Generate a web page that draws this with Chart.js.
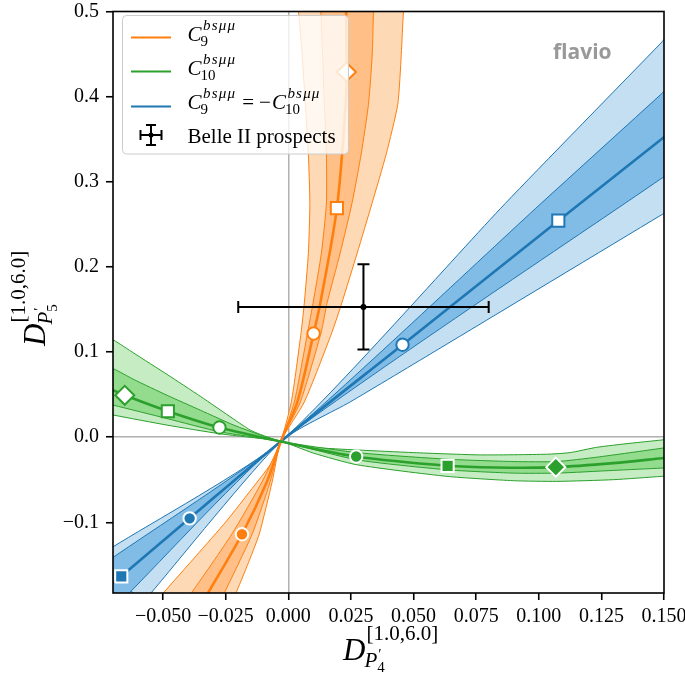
<!DOCTYPE html>
<html><head><meta charset="utf-8">
<script src="https://cdn.jsdelivr.net/npm/chart.js@4.4.1/dist/chart.umd.min.js"></script>
<style>html,body{margin:0;padding:0;background:#fff;overflow:hidden}</style>
</head><body>
<canvas id="c" width="685" height="673"></canvas>
<script>
// ---------------- data ----------------
const xTicks = [-0.05, -0.025, 0, 0.025, 0.05, 0.075, 0.1, 0.125, 0.15];
const xTickLabels = ['−0.050','−0.025','0.000','0.025','0.050','0.075','0.100','0.125','0.150'];
const yTicks = [-0.1, 0, 0.1, 0.2, 0.3, 0.4, 0.5];
const yTickLabels = ['−0.1','0.0','0.1','0.2','0.3','0.4','0.5'];
const xRange = [-0.07, 0.15];
const yRange = [-0.183, 0.5];

const seriesNames = ['C9', 'C10', 'C9=-C10'];

// C9 (orange)
const orangeCenter = [[-0.0345,-0.195],[-0.0324,-0.1847],[-0.0185,-0.114],[-0.0085,-0.0519],[-0.003,-0.005],[0.0036,0.0414],[0.0101,0.1218],[0.0128,0.158],[0.0194,0.269],[0.0229,0.391],[0.0232,0.429],[0.0231,0.4994],[0.023,0.53]];
const orangeOuterLeft = [[-0.053,-0.195],[-0.0504,-0.1847],[-0.0367,-0.139],[-0.0247,-0.0985],[-0.0144,-0.06],[-0.0072,-0.032],[-0.003,-0.005],[0.0012,0.0414],[0.0051,0.123],[0.0064,0.158],[0.008,0.2162],[0.0086,0.2745],[0.008,0.3327],[0.0068,0.391],[0.0055,0.4493],[0.0041,0.4994],[0.003,0.53]];
const orangeOuterRight = [[0.0475,0.53],[0.046,0.4994],[0.0451,0.4493],[0.0437,0.391],[0.0391,0.3327],[0.0334,0.2745],[0.0275,0.2162],[0.0214,0.158],[0.0174,0.123],[0.0064,0.0414],[-0.003,-0.005],[-0.0064,-0.0519],[-0.0116,-0.1136],[-0.0164,-0.1509],[-0.0211,-0.1847],[-0.0225,-0.195]];
const orangeInnerLeft = [[-0.042,-0.195],[-0.0391,-0.1847],[-0.0225,-0.1136],[-0.0104,-0.0519],[-0.003,-0.005],[0.0024,0.0414],[0.0077,0.123],[0.0099,0.158],[0.0132,0.2162],[0.0152,0.2745],[0.0152,0.3327],[0.0144,0.391],[0.0137,0.4493],[0.013,0.4994],[0.0127,0.53]];
const orangeInnerRight = [[0.0345,0.53],[0.034,0.4994],[0.0335,0.4493],[0.032,0.391],[0.0291,0.3327],[0.0254,0.2745],[0.0207,0.2162],[0.0155,0.158],[0.0131,0.123],[0.0048,0.0414],[-0.003,-0.005],[-0.0072,-0.0519],[-0.0144,-0.1136],[-0.0258,-0.1847],[-0.0273,-0.195]];

// C10 (green)
const greenCenter = [[-0.075,0.062],[-0.0697,0.055],[-0.0653,0.0492],[-0.0481,0.0305],[-0.0275,0.0114],[-0.003,-0.005],[0.0271,-0.0227],[0.0636,-0.0336],[0.0832,-0.0356],[0.1068,-0.0352],[0.1298,-0.0305],[0.1491,-0.0247],[0.155,-0.0228]];
const greenOuterTop = [[-0.075,0.122],[-0.0697,0.114],[-0.0617,0.0988],[-0.0484,0.0737],[-0.0351,0.048],[-0.0218,0.0212],[-0.0152,0.0084],[-0.0112,0.0033],[-0.003,-0.005],[0.0101,-0.0119],[0.0274,-0.015],[0.05,-0.0181],[0.0766,-0.0208],[0.1032,-0.02],[0.1125,-0.0181],[0.1231,-0.0119],[0.1364,-0.0072],[0.1491,-0.0033],[0.155,-0.0015]];
const greenOuterBottom = [[0.155,-0.045],[0.1491,-0.046],[0.1298,-0.0499],[0.1072,-0.0519],[0.0899,-0.0511],[0.0633,-0.046],[0.0274,-0.0324],[0.0101,-0.0188],[-0.003,-0.005],[-0.0275,0.0041],[-0.0484,0.0142],[-0.0697,0.0259],[-0.075,0.029]];
const greenInnerTop = [[-0.075,0.085],[-0.0697,0.0802],[-0.0617,0.0678],[-0.0484,0.0492],[-0.0351,0.0317],[-0.0218,0.0142],[-0.0112,0.0026],[-0.003,-0.005],[0.0274,-0.0181],[0.0633,-0.0258],[0.0899,-0.0286],[0.1072,-0.0286],[0.1231,-0.0235],[0.1491,-0.013],[0.155,-0.0105]];
const greenInnerBottom = [[0.155,-0.0355],[0.1491,-0.0363],[0.1298,-0.039],[0.1072,-0.0422],[0.0899,-0.0422],[0.0633,-0.0383],[0.0274,-0.0266],[-0.003,-0.005],[-0.0275,0.0064],[-0.0484,0.0219],[-0.0697,0.0375],[-0.075,0.041]];

// C9 = -C10 (blue)
const blueCenter = [[-0.075,-0.184],[-0.0667,-0.1634],[-0.0394,-0.0953],[-0.003,-0.005],[0.0456,0.1086],[0.1078,0.2543],[0.152,0.357]];
const blueOuterUpper = [[-0.075,-0.138],[-0.07,-0.1288],[-0.003,-0.005],[0.0866,0.2745],[0.1488,0.463],[0.155,0.482]];
const blueOuterLower = [[0.155,0.272],[0.1488,0.2608],[0.06,0.1035],[0.0247,0.0414],[-0.003,-0.005],[-0.0553,-0.1847],[-0.058,-0.195]];
const blueInnerUpper = [[-0.075,-0.151],[-0.07,-0.1412],[-0.003,-0.005],[0.1009,0.2745],[0.1488,0.4027],[0.155,0.419]];
const blueInnerLower = [[0.155,0.316],[0.1488,0.3036],[-0.003,-0.005],[-0.0641,-0.1847],[-0.0675,-0.195]];

// benchmark points on the central curves, for Wilson coefficient values
const wcValues = [1, 2, 3, -1, -2, -3];
const orangeMarks = [[0.0101,0.1218],[0.0194,0.269],[0.0232,0.429],[-0.0185,-0.114],null,null];
const greenMarks = [[-0.0275,0.0114],[-0.0481,0.0305],[-0.0653,0.0492],[0.0271,-0.0227],[0.0636,-0.0336],[0.1068,-0.0352]];
const blueMarks = [[0.0456,0.1086],[0.1078,0.2543],null,[-0.0394,-0.0953],[-0.0667,-0.1634],null];

// Belle II prospects
const belleX = [0.030];
const belleY = [0.153];
const belleXErr = [0.050];
const belleYErr = [0.050];

// ---------------- styling ----------------
const COL = { orange: '#ff7f0e', green: '#2ca02c', blue: '#1f77b4' };
const FILL = {
  orange: ['#fed9b6', '#ffbf86'],
  green: ['#c6ecc4', '#93dc8e'],
  blue: ['#c4dff2', '#80bce6']
};
const SERIF = '"Liberation Serif", "Times New Roman", serif';

const toXY = arr => arr.map(p => ({ x: p[0], y: p[1] }));

function band(a, b, fill, line, order) {
  const pts = a.concat(b);
  pts.push(a[0]);
  return { data: toXY(pts), fill: 'shape', backgroundColor: fill, borderColor: line, borderWidth: 1,
           pointRadius: 0, pointHoverRadius: 0, tension: 0.2, order };
}
function centre(a, line, order) {
  return { data: toXY(a), fill: false, borderColor: line, borderWidth: 2.6, pointRadius: 0,
           pointHoverRadius: 0, tension: 0.3, order };
}
function markers(marks, color) {
  const out = [];
  marks.forEach((m, i) => {
    if (!m) return;
    const wc = wcValues[i];
    const k = Math.abs(wc);
    const style = k === 1 ? 'circle' : (k === 2 ? 'rect' : 'rectRot');
    const rad = k === 1 ? 6.2 : (k === 2 ? 8.6 : 9.5);
    const open = wc > 0;
    out.push({ data: [{ x: m[0], y: m[1] }], showLine: false, pointStyle: style, pointRadius: rad,
      pointHoverRadius: rad, pointBackgroundColor: open ? '#ffffff' : color,
      pointBorderColor: open ? color : '#ffffff', pointBorderWidth: 2, order: 1 });
  });
  return out;
}

const datasets = [
  ...markers(orangeMarks, COL.orange),
  ...markers(greenMarks, COL.green),
  ...markers(blueMarks, COL.blue),
  centre(greenCenter, COL.green, 8),
  band(greenInnerTop, greenInnerBottom, FILL.green[1], COL.green, 9),
  band(greenOuterTop, greenOuterBottom, FILL.green[0], COL.green, 10),
  centre(orangeCenter, COL.orange, 18),
  band(orangeInnerLeft, orangeInnerRight, FILL.orange[1], COL.orange, 19),
  band(orangeOuterLeft, orangeOuterRight, FILL.orange[0], COL.orange, 20),
  centre(blueCenter, COL.blue, 28),
  band(blueInnerUpper, blueInnerLower, FILL.blue[1], COL.blue, 29),
  band(blueOuterUpper, blueOuterLower, FILL.blue[0], COL.blue, 30)
];

// ---------------- text helpers ----------------
function symC(ctx, x, y, sub, size) {
  ctx.font = `italic ${size}px ${SERIF}`;
  ctx.fillText('C', x, y);
  const w = ctx.measureText('C').width;
  const s2 = Math.round(size * 0.72);
  ctx.font = `${s2}px ${SERIF}`;
  ctx.fillText(sub, x + w - 1, y + 5);
  const ws = ctx.measureText(sub).width;
  ctx.font = `italic ${s2}px ${SERIF}`;
  ctx.letterSpacing = '1.2px';
  ctx.fillText('bsμμ', x + w + 1.5, y - 11);
  const wp = ctx.measureText('bsμμ').width;
  ctx.letterSpacing = '0px';
  return x + w + Math.max(ws - 1, wp + 1.5);
}
function dTitle(ctx, x, y, digit) {
  ctx.font = `italic 31px ${SERIF}`;
  ctx.fillText('D', x, y);
  const w = ctx.measureText('D').width;
  ctx.font = `21px ${SERIF}`;
  ctx.fillText('[1.0,6.0]', x + w + 1, y - 20);
  ctx.font = `italic 21px ${SERIF}`;
  const px = x + w - 1;
  ctx.fillText('P', px, y + 7);
  const wp = ctx.measureText('P').width;
  ctx.font = `15px ${SERIF}`;
  ctx.fillText('′', px + wp + 1, y - 1);
  ctx.fillText(digit, px + wp, y + 12);
}

const deco = {
  id: 'deco',
  afterDatasetsDraw(chart) {
    const ctx = chart.ctx, xs = chart.scales.x, ys = chart.scales.y;
    ctx.save();
    ctx.strokeStyle = '#000'; ctx.fillStyle = '#000'; ctx.lineWidth = 2;
    for (let i = 0; i < belleX.length; i++) {
      const cx = xs.getPixelForValue(belleX[i]), cy = ys.getPixelForValue(belleY[i]);
      const x0 = xs.getPixelForValue(belleX[i] - belleXErr[i]), x1 = xs.getPixelForValue(belleX[i] + belleXErr[i]);
      const y0 = ys.getPixelForValue(belleY[i] - belleYErr[i]), y1 = ys.getPixelForValue(belleY[i] + belleYErr[i]);
      ctx.beginPath();
      ctx.moveTo(x0, cy); ctx.lineTo(x1, cy);
      ctx.moveTo(cx, y0); ctx.lineTo(cx, y1);
      ctx.moveTo(x0, cy - 6); ctx.lineTo(x0, cy + 6);
      ctx.moveTo(x1, cy - 6); ctx.lineTo(x1, cy + 6);
      ctx.moveTo(cx - 6, y0); ctx.lineTo(cx + 6, y0);
      ctx.moveTo(cx - 6, y1); ctx.lineTo(cx + 6, y1);
      ctx.stroke();
      ctx.beginPath(); ctx.arc(cx, cy, 3, 0, Math.PI * 2); ctx.fill();
    }
    // flavio watermark
    ctx.font = 'bold 21px "Open Sans", "DejaVu Sans", sans-serif';
    ctx.fillStyle = '#999999';
    ctx.textBaseline = 'alphabetic';
    ctx.fillText('flavio', 553, 59);
    ctx.restore();
  },
  afterDraw(chart) {
    const ctx = chart.ctx, a = chart.chartArea;
    ctx.save();
    // frame
    ctx.strokeStyle = '#000'; ctx.lineWidth = 1.6;
    ctx.strokeRect(a.left, a.top, a.right - a.left, a.bottom - a.top);
    // legend box
    ctx.beginPath();
    ctx.roundRect(122.5, 15.5, 226, 138.5, 4);
    ctx.fillStyle = 'rgba(255,255,255,0.8)'; ctx.fill();
    ctx.strokeStyle = '#cccccc'; ctx.lineWidth = 1; ctx.stroke();
    const lys = [37.5, 71.5, 106.5];
    [COL.orange, COL.green, COL.blue].forEach((c, i) => {
      ctx.beginPath(); ctx.strokeStyle = c; ctx.lineWidth = 2;
      ctx.moveTo(131, lys[i]); ctx.lineTo(171, lys[i]); ctx.stroke();
    });
    // error bar icon
    ctx.strokeStyle = '#000'; ctx.fillStyle = '#000'; ctx.lineWidth = 2;
    const ix = 151, iy = 135;
    ctx.beginPath();
    ctx.moveTo(ix - 10.5, iy); ctx.lineTo(ix + 10.5, iy);
    ctx.moveTo(ix, iy - 10); ctx.lineTo(ix, iy + 10);
    ctx.moveTo(ix - 10.5, iy - 5); ctx.lineTo(ix - 10.5, iy + 5);
    ctx.moveTo(ix + 10.5, iy - 5); ctx.lineTo(ix + 10.5, iy + 5);
    ctx.moveTo(ix - 5, iy - 10); ctx.lineTo(ix + 5, iy - 10);
    ctx.moveTo(ix - 5, iy + 10); ctx.lineTo(ix + 5, iy + 10);
    ctx.stroke();
    ctx.beginPath(); ctx.arc(ix, iy, 2.5, 0, Math.PI * 2); ctx.fill();
    // legend texts
    ctx.fillStyle = '#000'; ctx.textBaseline = 'alphabetic'; ctx.textAlign = 'left';
    symC(ctx, 187.5, 40.5, '9', 21);
    symC(ctx, 187.5, 74.5, '10', 21);
    let x = symC(ctx, 187.5, 109, '9', 21);
    ctx.font = `21px ${SERIF}`;
    ctx.fillText('=', x + 6, 109);
    const weq = ctx.measureText('=').width;
    ctx.fillText('−', x + 6 + weq + 5, 109);
    const wm = ctx.measureText('−').width;
    symC(ctx, x + 6 + weq + 5 + wm + 1, 109, '10', 21);
    ctx.font = `21px ${SERIF}`;
    ctx.fillText('Belle II prospects', 187.5, 142.5);
    // axis titles
    dTitle(ctx, 343, 660, '4');
    ctx.save();
    ctx.translate(45, 346);
    ctx.rotate(-Math.PI / 2);
    dTitle(ctx, 0, 0, '5');
    ctx.restore();
    ctx.restore();
  }
};

const gridColor = c => (c.tick && Math.abs(c.tick.value) < 1e-12) ? '#b0b0b0' : 'rgba(0,0,0,0)';

new Chart(document.getElementById('c'), {
  type: 'line',
  data: { datasets },
  options: {
    responsive: false,
    devicePixelRatio: 1,
    animation: false,
    events: [],
    layout: { padding: { top: 7, right: 21, bottom: 0, left: 0 } },
    plugins: { legend: { display: false }, tooltip: { enabled: false } },
    scales: {
      x: {
        type: 'linear', min: xRange[0], max: xRange[1],
        afterBuildTicks: s => { s.ticks = xTicks.map(v => ({ value: v })); },
        afterFit: s => { s.height = 80; s.paddingLeft = 0; s.paddingRight = 0; },
        border: { display: false },
        grid: { color: gridColor, lineWidth: 1.5, tickColor: '#000', tickWidth: 1.6, tickLength: 7 },
        ticks: { autoSkip: false, maxRotation: 0, padding: 5, color: '#000',
          font: { family: SERIF, size: 20 },
          callback: (v) => { const i = xTicks.findIndex(t => Math.abs(t - v) < 1e-9); return i >= 0 ? xTickLabels[i] : ''; } }
      },
      y: {
        type: 'linear', min: yRange[0], max: yRange[1],
        afterBuildTicks: s => { s.ticks = yTicks.map(v => ({ value: v })); },
        afterFit: s => { s.width = 113; s.paddingTop = 0; s.paddingBottom = 0; },
        border: { display: false },
        grid: { color: gridColor, lineWidth: 1.5, tickColor: '#000', tickWidth: 1.6, tickLength: 7 },
        ticks: { autoSkip: false, padding: 7, color: '#000',
          font: { family: SERIF, size: 20 },
          callback: (v) => { const i = yTicks.findIndex(t => Math.abs(t - v) < 1e-9); return i >= 0 ? yTickLabels[i] : ''; } }
      }
    }
  },
  plugins: [deco]
});
</script>
</body></html>
